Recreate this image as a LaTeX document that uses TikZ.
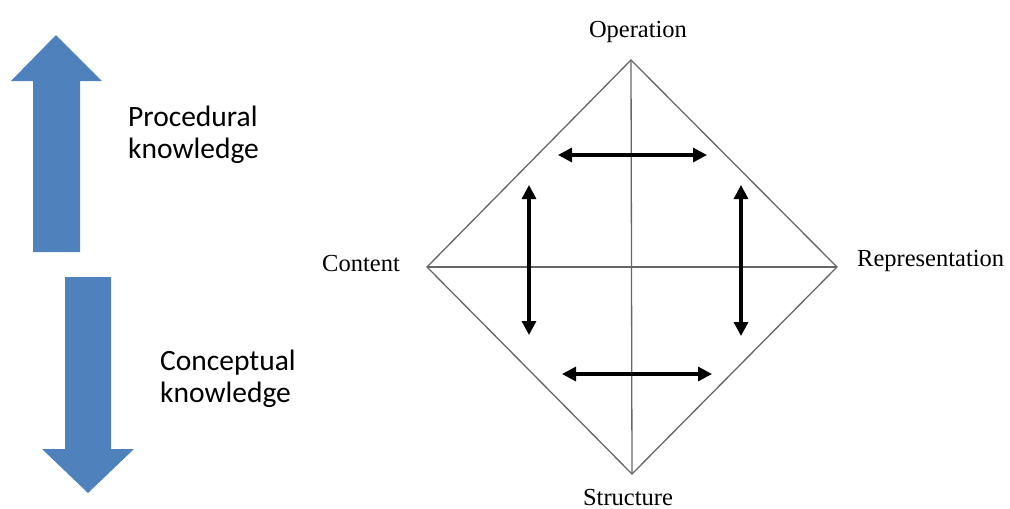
\documentclass[tikz,border=0pt]{standalone}
\usepackage{fontspec}
\setmainfont{Liberation Serif}
\newfontfamily\calibrifont{Carlito}
\usepackage{tikz}
\usetikzlibrary{positioning, arrows.meta}

\definecolor{officeblue}{RGB}{79,129,189}

\tikzset{
  corner/.style={font=\fontsize{24.5}{28}\selectfont, inner sep=0pt},
  side/.style={draw=black!60, line width=1.3},
  link/.style={{Triangle[length=14, width=14]}-{Triangle[length=14, width=14]}, line width=3.2},
  bigarrow/.style={fill=officeblue, draw=none},
  knowtext/.style={font=\calibrifont\fontsize{29.5}{32}\selectfont, align=left, inner sep=0pt, anchor=base west}
}

\begin{document}
\begin{tikzpicture}[x=1pt, y=-1pt]
    \useasboundingbox (0,0) rectangle (1010,509);

    % Blue arrows on the left
    \fill[bigarrow] (33,252) -- (33,81) -- (11,81) -- (56,35) -- (102,81) -- (80,81) -- (80,252) -- cycle;
    \fill[bigarrow] (65,277) -- (65,449) -- (42,449) -- (88,493) -- (134,449) -- (111,449) -- (111,277) -- cycle;

    \node[knowtext] (proc) at (128,158) {Procedural\\knowledge};
    \node[knowtext] (conc) at (160,402) {Conceptual\\knowledge};

    % Corners of the square
    \coordinate (top) at (631,60);
    \coordinate (left) at (427,267);
    \coordinate (right) at (837,267);
    \coordinate (bottom) at (632,474);

    \draw[side] (top) -- (right) -- (bottom) -- (left) -- cycle;
    \draw[side] (top) -- (bottom);
    \draw[side] (left) -- (right);

    % Labels
    \node[corner, anchor=base] (operation) at (638,37) {Operation};
    \node[corner, anchor=base east] (content) at (400,271) {Content};
    \node[corner, anchor=base west] (representation) at (857,266) {Representation};
    \node[corner, anchor=base] (structure) at (628,505) {Structure};

    % Double arrows
    \coordinate (a1) at (558,155);  \coordinate (a2) at (707,155);
    \coordinate (b1) at (562,374);  \coordinate (b2) at (712,374);
    \coordinate (c1) at (529,185);  \coordinate (c2) at (529,335);
    \coordinate (d1) at (741,185);  \coordinate (d2) at (741,336);

    \draw[link] (a1) -- (a2);
    \draw[link] (b1) -- (b2);
    \draw[link] (c1) -- (c2);
    \draw[link] (d1) -- (d2);

\end{tikzpicture}
\end{document}
